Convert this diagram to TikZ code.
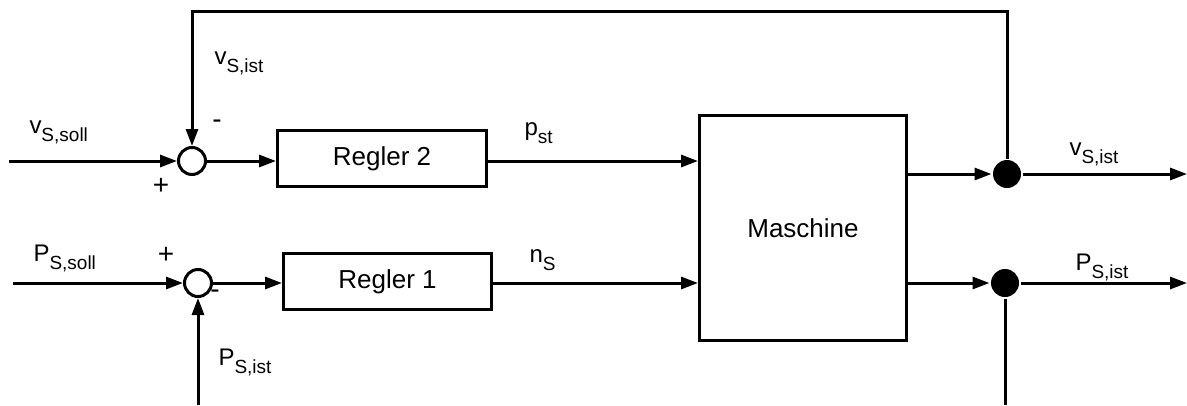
\documentclass[tikz,border=0pt]{standalone}
\usepackage{fontspec}
\setmainfont{Liberation Sans}
\usetikzlibrary{arrows.meta}
% signal name with a lowered, smaller index
\newcommand\sig[2]{#1\raisebox{-8pt}{\fontsize{19}{21}\selectfont #2}}

\begin{document}
\begin{tikzpicture}[x=1pt,y=-1pt,
  line width=3pt,
  flow/.style={-{Triangle[length=17pt,width=12pt]}},
  block/.style={draw, rectangle, inner sep=0pt, font=\fontsize{26}{30}\selectfont},
  sumjn/.style={draw, circle, minimum size=27pt, inner sep=0pt},
  tap/.style={fill, circle, minimum size=28pt, inner sep=0pt},
  lbl/.style={anchor=base west, inner sep=0pt, font=\fontsize{24}{28}\selectfont},
  sign/.style={inner sep=0pt, font=\fontsize{28}{30}\selectfont}]
\useasboundingbox (0,0) rectangle (1187,405);

% blocks and junctions
\node[sumjn] (s2) at (192,161) {};
\node[sumjn] (s1) at (198,283) {};
\node[block, minimum width=209pt, minimum height=56pt] (r2) at (382,158.5) {Regler 2};
\node[block, minimum width=208pt, minimum height=56pt] (r1) at (387.5,281.5) {Regler 1};
\node[block, minimum width=207pt, minimum height=225pt] (m) at (803,228) {Maschine};
\node[tap] (t2) at (1007,174) {};
\node[tap] (t1) at (1005,283) {};

% free ends
\coordinate (vin) at (9,161);
\coordinate (pin) at (13,283);
\coordinate (vout) at (1187,174);
\coordinate (pout) at (1187,283);
\coordinate (top) at (0,11);
\coordinate (pbot) at (1005,405);
\coordinate (fbot) at (198,405);

% forward paths
\draw[flow] (vin) -- (s2);
\draw[flow] (s2) -- (s2 -| r2.west);
\draw[flow] (r2.east |- s2) -- (m.west |- s2);
\draw[flow] (pin) -- (s1);
\draw[flow] (s1) -- (s1 -| r1.west);
\draw[flow] (r1.east |- s1) -- (m.west |- s1);
\draw[flow] (m.east |- t2) -- (t2);
\draw[flow] (m.east |- t1) -- (t1);
\draw[flow] (t2) -- (vout);
\draw[flow] (t1) -- (pout);

% feedback paths
\draw[flow] (t2) -- (t2 |- top) -| (s2);
\draw (t1) -- (pbot);
\draw[flow] (fbot) -- (s1);

% signal labels
\node[lbl] (lvsoll) at (28,133) {\sig{v}{S,soll}};
\node[lbl] (lpsoll) at (32,261) {\sig{P}{S,soll}};
\node[lbl] (lvfb) at (213,64) {\sig{v}{S,ist}};
\node[lbl] (lpfb) at (217,365) {\sig{P}{S,ist}};
\node[lbl] (lpst) at (523,135) {\sig{p}{st}};
\node[lbl] (lns) at (528,262) {\sig{n}{S}};
\node[lbl] (lvout) at (1068,155) {\sig{v}{S,ist}};
\node[lbl] (lpout) at (1074,270) {\sig{P}{S,ist}};

% signs at the summing junctions
\node[sign] (m2) at (217,124) {-};
\node[sign] (p2) at (161,186) {+};
\node[sign] (p1) at (166,255) {+};
\node[sign] (m1) at (215,294) {-};
\end{tikzpicture}
\end{document}
